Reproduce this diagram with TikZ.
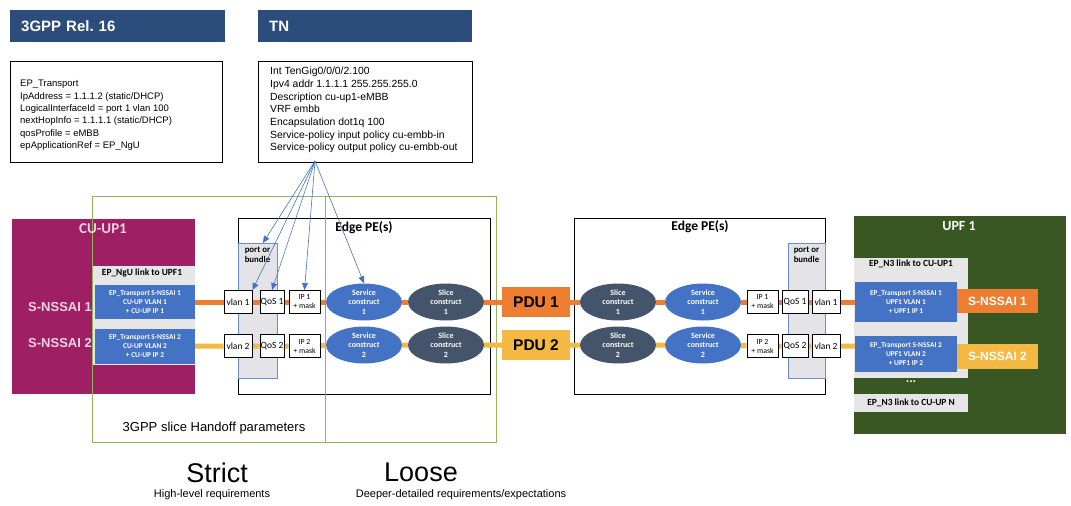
\documentclass[tikz,border=0pt]{standalone}
\usepackage{fontspec}
\setmainfont{Liberation Sans}
\newfontfamily\calfont{Carlito}
\usetikzlibrary{arrows.meta,backgrounds,shapes.geometric}
\pgfdeclarelayer{back}
\pgfsetlayers{back,background,main}
\definecolor{hdrblue}{RGB}{44,77,124}
\definecolor{cumag}{RGB}{158,31,100}
\definecolor{cutext}{RGB}{244,210,230}
\definecolor{upfgreen}{RGB}{56,87,35}
\definecolor{obl}{RGB}{68,114,196}
\definecolor{slate}{RGB}{68,84,106}
\definecolor{ora}{RGB}{237,125,49}
\definecolor{yel}{RGB}{244,185,66}
\definecolor{frgreen}{RGB}{146,180,90}
\definecolor{lgray}{RGB}{231,230,230}
\definecolor{pgray}{RGB}{228,228,232}
\begin{document}
\begin{tikzpicture}[x=1pt,y=-1pt,
  hdr/.style={fill=hdrblue,text=white,font=\fontsize{15}{18}\selectfont\bfseries,anchor=north west,minimum height=32pt,align=left,inner xsep=11pt,inner ysep=0pt},
  infobox/.style={draw=black,line width=1pt,anchor=north west,inner sep=0pt},
  infotext/.style={anchor=north west,align=left,inner sep=0pt},
  area/.style={anchor=north west,inner sep=0pt},
  pebox/.style={area,draw=black,line width=1.2pt},
  portbox/.style={area,fill=pgray,draw=obl!80,line width=0.8pt},
  frame/.style={area,draw=frgreen,line width=1pt},
  cutitle/.style={text=cutext,font=\calfont\bfseries\fontsize{15}{17}\selectfont,inner sep=0pt},
  culbl/.style={text=cutext,font=\bfseries\fontsize{13}{15}\selectfont,inner sep=0pt},
  graylbl/.style={text=black,font=\calfont\bfseries\fontsize{9.4}{11}\selectfont,inner sep=0pt},
  ept/.style={fill=obl,text=white,inner sep=0pt,align=center,font=\calfont\bfseries\fontsize{7.4}{9}\selectfont},
  petitle/.style={font=\calfont\bfseries\fontsize{13.5}{15}\selectfont,inner sep=0pt},
  portlbl/.style={align=center,font=\calfont\bfseries\fontsize{8.8}{10.5}\selectfont,inner sep=0pt},
  smallbox/.style={draw=black,line width=1pt,fill=white,inner sep=0pt,minimum height=23pt,font=\calfont\fontsize{9.5}{10}\selectfont},
  ipbox/.style={smallbox,minimum width=31pt,align=center,font=\calfont\fontsize{7.8}{9}\selectfont},
  svc/.style={ellipse,fill=obl,text=white,minimum width=76pt,minimum height=37pt,inner sep=0pt,align=center,font=\calfont\bfseries\fontsize{8}{9.8}\selectfont},
  slc/.style={svc,fill=slate},
  pdu/.style={minimum width=68pt,minimum height=30pt,inner sep=0pt,font=\bfseries\fontsize{15.5}{17}\selectfont},
  snl/.style={minimum width=81pt,inner sep=0pt,text=white,font=\bfseries\fontsize{12}{14}\selectfont},
  oline/.style={draw=ora,line width=5pt},
  yline/.style={draw=yel,line width=5pt},
  tnarrow/.style={draw=obl,line width=0.6pt,-{Triangle[width=6pt,length=7pt]}}
]
\useasboundingbox (0,0) rectangle (1071,506);

% headers and info boxes
\node[hdr,text width=193pt] (h1) at (10,10) {3GPP Rel.\ 16};
\node[hdr,text width=192pt] (h2) at (258,10) {TN};
\node[infobox,minimum width=212pt,minimum height=101pt] (b1) at (10,61) {};
\node[infobox,minimum width=214pt,minimum height=101pt] (b2) at (258,61) {};
\node[infotext,font=\fontsize{9.5}{12.4}\selectfont] (t1) at (20,80) {EP\_Transport\\IpAddress = 1.1.1.2 (static/DHCP)\\LogicalInterfaceId = port 1 vlan 100\\nextHopInfo = 1.1.1.1 (static/DHCP)\\qosProfile = eMBB\\epApplicationRef = EP\_NgU};
\node[infotext,font=\fontsize{10.4}{12.7}\selectfont] (t2) at (270,67) {Int TenGig0/0/0/2.100\\Ipv4 addr 1.1.1.1 255.255.255.0\\Description cu-up1-eMBB\\VRF embb\\Encapsulation dot1q 100\\Service-policy input policy cu-embb-in\\Service-policy output policy cu-embb-out};

% containers
\begin{pgfonlayer}{back}
  \node[area,fill=cumag,minimum width=183pt,minimum height=175pt] (cu) at (12,219) {};
  \node[area,fill=lgray,minimum width=102pt,minimum height=99pt] (cugray) at (93,266) {};
  \node[area,fill=upfgreen,minimum width=212pt,minimum height=218pt] (upf) at (854,216) {};
  \node[area,fill=lgray,minimum width=114pt,minimum height=120pt] (upfgray) at (854,258) {};
  \node[area,fill=lgray,minimum width=114pt,minimum height=18pt] (upfgrayN) at (854,394) {};
  \node[pebox,minimum width=252pt,minimum height=176pt] (peL) at (238,218) {};
  \node[pebox,minimum width=251pt,minimum height=176pt] (peR) at (574,218) {};
  \node[portbox,minimum width=39pt,minimum height=135pt] (portL) at (238,243) {};
  \node[portbox,minimum width=37pt,minimum height=135pt] (portR) at (788,243) {};
  \node[frame,minimum width=233pt,minimum height=246pt] (fr1) at (92,196) {};
  \node[frame,minimum width=171pt,minimum height=246pt] (fr2) at (325,196) {};
\end{pgfonlayer}

% CU-UP1
\node[cutitle] (cut) at (103,228.5) {CU-UP1};
\node[culbl] (cus1) at (60,307) {S-NSSAI 1};
\node[culbl] (cus2) at (60,343) {S-NSSAI 2};
\node[graylbl] (ngu) at (142,273) {EP\_NgU link to UPF1};
\node[ept,minimum width=100pt,minimum height=34pt] (ept1L) at (145,302) {EP\_Transport S-NSSAI 1\\CU-UP VLAN 1\\+ CU-UP IP 1};
\node[ept,minimum width=100pt,minimum height=35pt] (ept2L) at (145,346.5) {EP\_Transport S-NSSAI 2\\CU-UP VLAN 2\\+ CU-UP IP 2};

% left Edge PE
\node[petitle] (peLt) at (364,228) {Edge PE(s)};
\node[portlbl] (portLt) at (257.5,255) {port or\\bundle};
\node[smallbox,minimum width=28pt] (vlan1L) at (238,302) {vlan 1};
\node[smallbox,minimum width=24pt] (qos1L) at (272,302) {QoS 1};
\node[ipbox] (ip1L) at (304.5,302) {IP 1\\+ mask};
\node[smallbox,minimum width=28pt] (vlan2L) at (238,346) {vlan 2};
\node[smallbox,minimum width=24pt] (qos2L) at (272,346) {QoS 2};
\node[ipbox] (ip2L) at (304.5,346) {IP 2\\+ mask};
\node[svc] (sc1L) at (364,302) {Service\\construct\\1};
\node[slc] (sl1L) at (446,302) {Slice\\construct\\1};
\node[svc] (sc2L) at (364,345) {Service\\construct\\2};
\node[slc] (sl2L) at (446,345) {Slice\\construct\\2};

% PDUs
\node[pdu,fill=ora] (pdu1) at (536,302) {PDU 1};
\node[pdu,fill=yel] (pdu2) at (536,345) {PDU 2};

% right Edge PE
\node[petitle] (peRt) at (700,227) {Edge PE(s)};
\node[portlbl] (portRt) at (806.5,255) {port or\\bundle};
\node[slc] (sl1R) at (618,302) {Slice\\construct\\1};
\node[svc] (sc1R) at (703,302) {Service\\construct\\1};
\node[slc] (sl2R) at (618,345) {Slice\\construct\\2};
\node[svc] (sc2R) at (703,345) {Service\\construct\\2};
\node[ipbox] (ip1R) at (762.5,302) {IP 1\\+ mask};
\node[smallbox,minimum width=26pt] (qos1R) at (795,302) {QoS 1};
\node[smallbox,minimum width=28pt] (vlan1R) at (826,302) {vlan 1};
\node[ipbox] (ip2R) at (762.5,346) {IP 2\\+ mask};
\node[smallbox,minimum width=26pt] (qos2R) at (795,346) {QoS 2};
\node[smallbox,minimum width=28pt] (vlan2R) at (826,346) {vlan 2};

% UPF 1
\node[cutitle,text=white,font=\calfont\bfseries\fontsize{14}{16}\selectfont] (upft) at (959,226) {UPF 1};
\node[graylbl] (n3) at (911,264) {EP\_N3 link to CU-UP1};
\node[ept,minimum width=102pt,minimum height=40pt] (ept1R) at (906,302) {EP\_Transport S-NSSAI 1\\UPF1 VLAN 1\\+ UPF1 IP 1};
\node[ept,minimum width=102pt,minimum height=36pt] (ept2R) at (906,354) {EP\_Transport S-NSSAI 2\\UPF1 VLAN 2\\+ UPF1 IP 2};
\node[snl,fill=ora,minimum height=24pt] (sn1) at (997.5,301) {S-NSSAI 1};
\node[snl,fill=yel,minimum height=25pt] (sn2) at (997.5,356.5) {S-NSSAI 2};
\node[inner sep=0pt,text=white,font=\calfont\bfseries\fontsize{13}{14}\selectfont] (dots) at (911,382) {...};
\node[graylbl] (n3N) at (911,403) {EP\_N3 link to CU-UP N};

% bottom texts
\node[inner sep=0pt,font=\fontsize{13}{15}\selectfont] (hand) at (214,428) {3GPP slice Handoff parameters};
\node[inner sep=0pt,font=\fontsize{27}{30}\selectfont] (strict) at (217,472.5) {Strict};
\node[inner sep=0pt,font=\fontsize{11}{13}\selectfont] (high) at (212,495) {High-level requirements};
\node[inner sep=0pt,font=\fontsize{27}{30}\selectfont] (loose) at (421,472.5) {Loose};
\node[inner sep=0pt,font=\fontsize{11}{13}\selectfont] (deeper) at (461,495) {Deeper-detailed requirements/expectations};

% slice data paths
\begin{pgfonlayer}{background}
  \draw[oline] (ept1L) -- (vlan1L) -- (qos1L) -- (ip1L) -- (sc1L) -- (sl1L) -- (pdu1) -- (sl1R) -- (sc1R) -- (ip1R) -- (qos1R) -- (vlan1R) -- (ept1R);
  \draw[yline] (ept2L) -- (vlan2L) -- (qos2L) -- (ip2L) -- (sc2L) -- (sl2L) -- (pdu2) -- (sl2R) -- (sc2R) -- (ip2R) -- (qos2R) -- (vlan2R) -- (vlan2R -| ept2R.west);
\end{pgfonlayer}

% TN mapping arrows
\coordinate (tnsrc) at (315,161);
\draw[tnarrow] (tnsrc) -- ([xshift=5pt]portL.north);
\draw[tnarrow] (tnsrc) -- (vlan1L.north east);
\draw[tnarrow] (tnsrc) -- (qos1L.north);
\draw[tnarrow] (tnsrc) -- (ip1L.north);
\draw[tnarrow] (tnsrc) -- (sc1L.north);
\end{tikzpicture}
\end{document}
